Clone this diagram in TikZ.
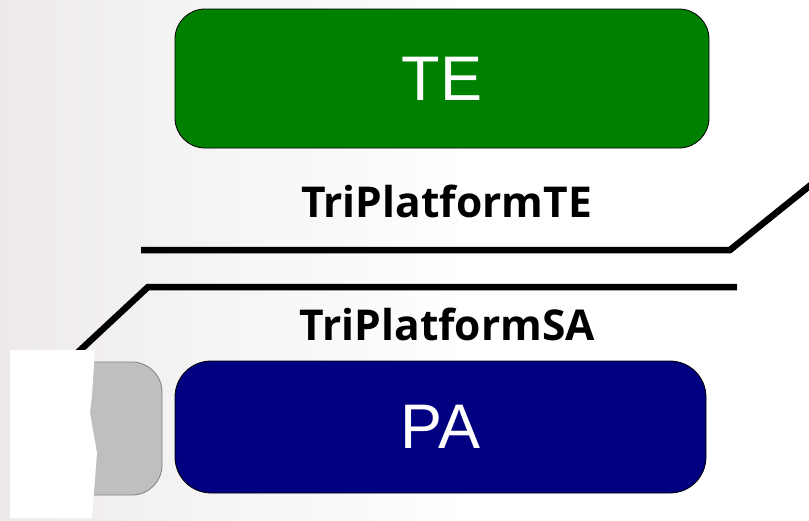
\documentclass[tikz,border=0pt]{standalone}
\usepackage{fontspec}
\setmainfont{Liberation Sans}
\newfontfamily\labfont{Open Sans}
\definecolor{teGreen}{HTML}{008000}
\definecolor{paBlue}{HTML}{000080}
\definecolor{grayFill}{HTML}{BFBFBF}
\definecolor{grayEdge}{HTML}{7F7F7F}
\definecolor{bgLeft}{HTML}{EEEAEA}
\tikzset{
  bigbox/.style={draw=black, line width=0.8pt, inner sep=0pt, text=white,
    font=\fontsize{63}{63}\selectfont},
  platlabel/.style={anchor=base, inner sep=0pt, font=\labfont\bfseries\fontsize{42.5}{42.5}\selectfont},
  rail/.style={line width=6.5pt, line join=miter}
}
\begin{document}
\begin{tikzpicture}[x=1pt,y=-1pt]
\useasboundingbox (0,0) rectangle (809,520);
\fill[white] (0,0) rectangle (809,520);
\shade[left color=bgLeft, right color=white] (0,0) rectangle (470,520);
\begin{scope}
\clip (0,0) rectangle (809,520);
% rails
\coordinate (t1) at (141,250);
\coordinate (t2) at (730,250);
\coordinate (t3) at (840,161.4);
\draw[rail] (t1) -- (t2) -- (t3);
\coordinate (b1) at (737,287);
\coordinate (b2) at (148,287);
\coordinate (b3) at (60,369);
\draw[rail] (b1) -- (b2) -- (b3);
\end{scope}
% boxes
\node[bigbox, fill=teGreen, minimum width=534pt, minimum height=139pt, rounded corners=30pt] (te) at (442,78.5) {TE};
\node[bigbox, fill=paBlue, minimum width=531pt, minimum height=132pt, rounded corners=36pt] (pa) at (440.5,427) {PA};
\node[draw=grayEdge, line width=0.8pt, fill=grayFill, minimum width=112pt, minimum height=133pt, rounded corners=30pt, inner sep=0pt] (gr) at (106,428.5) {};
% white cover
\fill[white] (10,350) -- (95,350) -- (92,395) -- (90,413) -- (97,453) -- (92,518) -- (10,518) -- cycle;
% labels
\node[platlabel] (lte) at (446.5,217) {TriPlatformTE};
\node[platlabel] (lsa) at (447.5,340) {TriPlatformSA};
\end{tikzpicture}
\end{document}
